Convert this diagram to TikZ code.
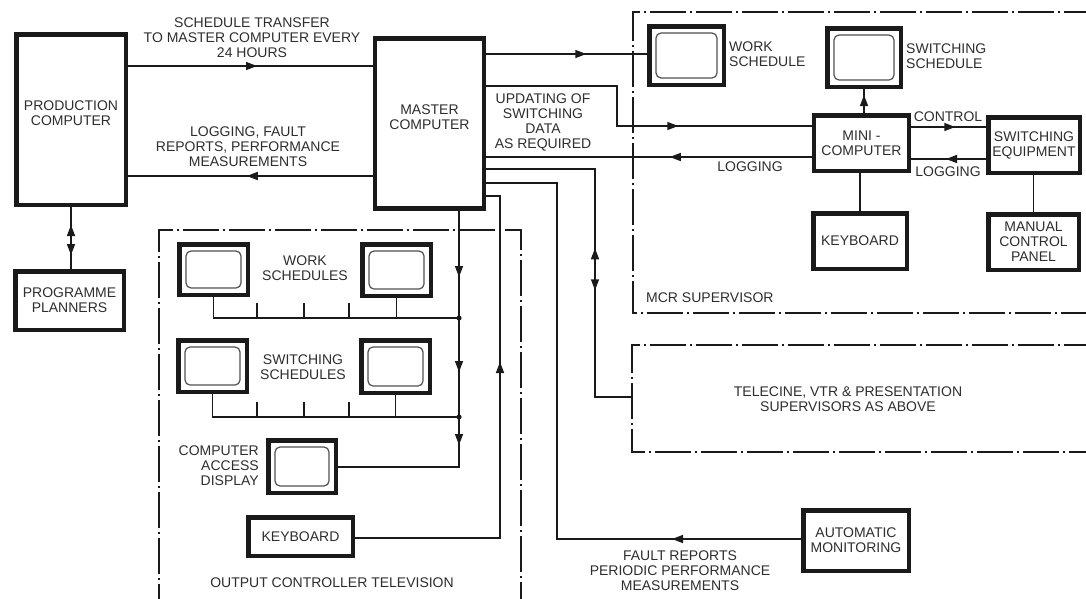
\documentclass[tikz,border=0pt]{standalone}
\usepackage{fontspec}
\setmainfont{Liberation Sans}
\usetikzlibrary{arrows.meta,decorations.markings}
\definecolor{ink}{HTML}{1A1A1A}
\definecolor{txt}{HTML}{2E2E2E}
\definecolor{scr}{HTML}{505050}
\tikzset{
  every node/.style={font=\fontsize{14}{15}\selectfont, text=txt},
  box/.style={draw=ink, line width=4.5pt, align=center, inner sep=0pt},
  ln/.style={draw=ink, color=ink, line width=1.5pt},
  dd/.style={draw=ink, line width=1.5pt, dash pattern=on 36pt off 4pt on 2pt off 4pt},
  screen/.style={draw=scr, line width=1.2pt, rounded corners=5pt},
  lbl/.style={align=center, inner sep=0pt},
  fwd/.style={postaction={decorate,decoration={markings,mark=at position #1 with {\arrow{Triangle[length=11pt,width=8pt]}}}}},
  bwd/.style={postaction={decorate,decoration={markings,mark=at position #1 with {\arrowreversed{Triangle[length=11pt,width=8pt]}}}}},
}
\newcommand\mkmon[5]{%
  \node[box, minimum width=#4pt, minimum height=#5pt] (#1) at (#2,#3) {};
  \draw[screen] ([shift={(9,9)}]#1.north west) rectangle ([shift={(-9,-9)}]#1.south east);
}
\begin{document}
\begin{tikzpicture}[x=1pt,y=-1pt]
\useasboundingbox (0,0) rectangle (1086,598);
\clip (0,0) rectangle (1086,598);
\fill[white] (0,0) rectangle (1086,598);

% helper coordinates (heights)
\foreach \v in {54,66,86,126,127,157,159,169,176,183,196,303,318,402,417,467,538,539}{\coordinate (y\v) at (0,\v);}
\coordinate (tele) at (632,397);

% dash-dot frames
\draw[dd] (1100,12) -- (633,12) -- (633,313) -- (1100,313);
\draw[dd] (1100,345) -- (632,345) -- (632,452) -- (1100,452);
\draw[dd] (159,620) -- (159,230) -- (521,230) -- (521,620);

% main boxes
\node[box, minimum width=109.5pt, minimum height=170.5pt] (prod) at (71,119.5) {PRODUCTION\\COMPUTER\\[-3pt]\mbox{}};
\node[box, minimum width=109pt, minimum height=170pt] (master) at (429.5,123.5) {MASTER\\COMPUTER\\[-3pt]\mbox{}};
\node[box, minimum width=108.5pt, minimum height=58.5pt] (plan) at (69.5,300.5) {PROGRAMME\\PLANNERS};
\node[box, minimum width=95pt, minimum height=55.5pt] (mini) at (861.5,143) {MINI -\\COMPUTER};
\node[box, minimum width=91.5pt, minimum height=55.5pt] (sweq) at (1034,145) {SWITCHING\\EQUIPMENT};
\node[box, minimum width=93.5pt, minimum height=55.5pt] (kbm) at (860,241) {KEYBOARD};
\node[box, minimum width=90.5pt, minimum height=55.5pt] (mcp) at (1033.5,242) {MANUAL\\CONTROL\\PANEL};
\node[box, minimum width=105.5pt, minimum height=60.5pt] (auto) at (856,540.5) {AUTOMATIC\\MONITORING};
\node[box, minimum width=104.5pt, minimum height=38.5pt] (kbo) at (300.5,536.5) {KEYBOARD};

% monitors
\mkmon{mws}{686.5}{55.5}{74.5}{58.5}
\mkmon{mss}{864}{57.5}{73.5}{58.5}
\mkmon{wm1}{213.5}{269.5}{68.5}{50.5}
\mkmon{wm2}{396.5}{270}{68.5}{51.5}
\mkmon{sm1}{212.5}{366}{68.5}{51.5}
\mkmon{sm2}{395.5}{366.5}{68.5}{52.5}
\mkmon{cad}{302}{466.5}{67.5}{52.5}

% labels
\node[lbl, anchor=west, align=left] (lws) at (729,54.5) {WORK\\SCHEDULE};
\node[lbl, anchor=west, align=left] (lss) at (906,56.5) {SWITCHING\\SCHEDULE};
\node[lbl] (lst) at (252,38) {SCHEDULE TRANSFER\\TO MASTER COMPUTER EVERY\\24 HOURS};
\node[lbl] (llf) at (248,147) {LOGGING, FAULT\\REPORTS, PERFORMANCE\\MEASUREMENTS};
\node[lbl] (lup) at (543,122.5) {UPDATING OF\\SWITCHING\\DATA\\AS REQUIRED};
\node[lbl] (llog1) at (750,167) {LOGGING};
\node[lbl] (lctl) at (948,117) {CONTROL};
\node[lbl] (llog2) at (948,172) {LOGGING};
\node[lbl, anchor=west] (lmcr) at (646,298) {MCR SUPERVISOR};
\node[lbl] (ltel) at (848,399.5) {TELECINE, VTR \& PRESENTATION\\SUPERVISORS AS ABOVE};
\node[lbl] (lflt) at (680,571) {FAULT REPORTS\\PERIODIC PERFORMANCE\\MEASUREMENTS};
\node[lbl] (lws2) at (305,268) {WORK\\SCHEDULES};
\node[lbl] (lss2) at (303,367) {SWITCHING\\SCHEDULES};
\node[lbl, anchor=east, align=right] (lcad) at (259,466) {COMPUTER\\ACCESS\\DISPLAY};
\node[lbl] (loc) at (332,583) {OUTPUT CONTROLLER TELEVISION};

% connectors: production <-> master
\draw[ln, fwd=129pt] (prod.east |- y66) -- (master.west |- y66);
\draw[ln, fwd=126pt] (master.west |- y176) -- (prod.east |- y176);
\draw[ln, fwd=48pt, bwd=18pt] (prod.south) -- (prod.south |- plan.north);

% master -> MCR
\draw[ln, fwd=100pt] (master.east |- y54) -- (mws.west |- y54);
\draw[ln, fwd=232pt] (master.east |- y86) -- (617,86) -- (617,126) -- (mini.west |- y126);
\draw[ln, fwd=142pt] (mini.west |- y157) -- (master.east |- y157);
\draw[ln, fwd=44pt] (mini.east |- y127) -- (sweq.west |- y127);
\draw[ln, fwd=40pt] (sweq.west |- y159) -- (mini.east |- y159);
\draw[ln, fwd=18pt] (mss.south |- mini.north) -- (mss.south);
\draw[ln] (kbm.north |- mini.south) -- (kbm.north);
\draw[ln] (mcp.north |- sweq.south) -- (mcp.north);

% master -> telecine, monitoring, output controller
\draw[ln, bwd=188pt, fwd=230pt] (master.east |- y169) -- (595,169) -- (595,397) -- (tele);
\draw[ln, fwd=129pt] (auto.west |- y539) -- (557,539) -- (557,183) -- (master.east |- y183);
\draw[ln, fwd=321pt] (kbo.east |- y538) -- (500,538) -- (500,196) -- (master.east |- y196);
\draw[ln, fwd=66pt, fwd=161pt, fwd=234pt] (459,211) -- (459,467) -- (cad.east |- y467);

% display buses
\draw[ln] (wm1.south) -- (wm1.south |- y318) -- (459,318);
\draw[ln] (wm2.south) -- (wm2.south |- y318);
\foreach \t in {257,304,349}{\draw[ln] (\t,318) -- (\t,303);}
\draw[ln] (sm1.south) -- (sm1.south |- y417) -- (459,417);
\draw[ln] (sm2.south) -- (sm2.south |- y417);
\foreach \t in {257,304,349}{\draw[ln] (\t,417) -- (\t,402);}
\fill[ink] (459,318) circle (2.6);
\fill[ink] (459,417) circle (2.6);
\end{tikzpicture}
\end{document}
